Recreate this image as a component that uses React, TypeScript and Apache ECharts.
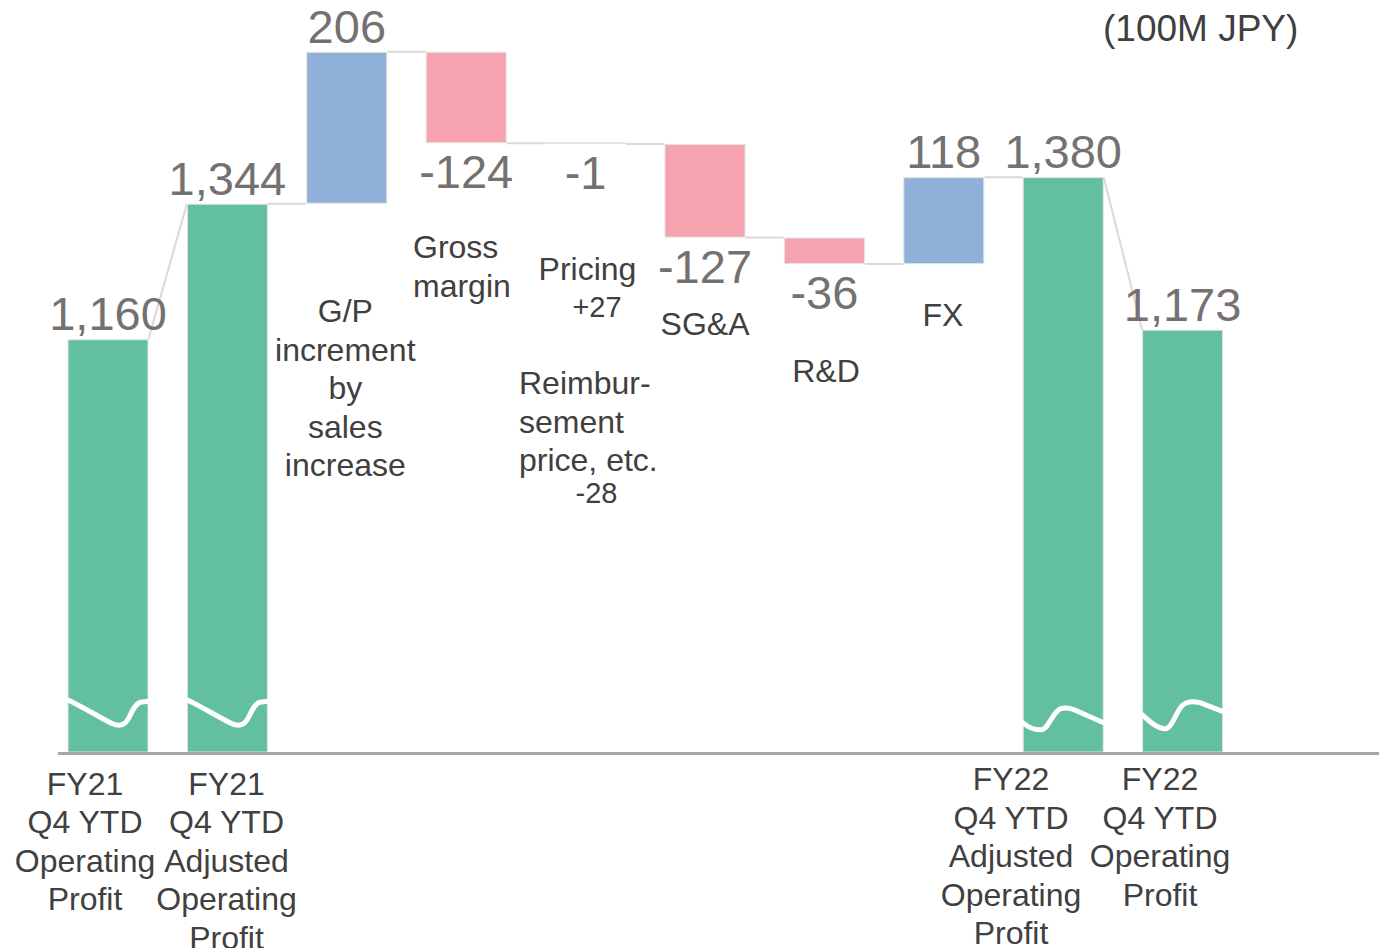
import React, { useEffect, useRef } from 'react';
import * as echarts from 'echarts';

// ---------- data ----------
const categories = [
  'FY21 Q4 YTD Operating Profit',
  'FY21 Q4 YTD Adjusted Operating Profit',
  'G/P increment by sales increase',
  'Gross margin',
  'Pricing / Reimbursement price',
  'SG&A',
  'R&D',
  'FX',
  'FY22 Q4 YTD Adjusted Operating Profit',
  'FY22 Q4 YTD Operating Profit',
];
const values = [1160, 1344, 206, -124, -1, -127, -36, 118, 1380, 1173];
const isTotal = [true, true, false, false, false, false, false, false, true, true];

const unitLabel = '(100M JPY)';

const axisLabelCats = [0, 1, 8, 9];
const axisLabelTexts = [
  'FY21\nQ4 YTD\nOperating\nProfit',
  'FY21\nQ4 YTD\nAdjusted\nOperating\nProfit',
  'FY22\nQ4 YTD\nAdjusted\nOperating\nProfit',
  'FY22\nQ4 YTD\nOperating\nProfit',
];

const descCats = [2, 3, 4, 4, 4, 4, 5, 6, 7];
const descTexts = [
  'G/P\nincrement\nby\nsales\nincrease',
  'Gross\nmargin',
  'Pricing',
  '+27',
  'Reimbur-\nsement\nprice, etc.',
  '-28',
  'SG&A',
  'R&D',
  'FX',
];

// axis break marks (category, value at top of the mark, shape variant)
const breakCats = [0, 1, 8, 9];
const breakTops = [673, 673, 671, 671];
const breakVariants = [0, 0, 1, 2];

const AXIS_MIN = 600;
const AXIS_MAX = 1600;

// ---------- layout / style ----------
const FONT = '"Liberation Sans", Arial, sans-serif';
const GREEN = '#62BFA0';
const BLUE = '#8EB0D9';
const PINK = '#F6A2AF';
const VALUE_GRAY = '#767171';
const TEXT_DARK = '#404040';
const BAR_W = 81;
const TXT = 32;
const SMALL = 29;

const axisLabelLayout = [
  { dx: -23, dy: 12.6 },
  { dx: -0.9, dy: 12.6 },
  { dx: -52.2, dy: 7.9 },
  { dx: -22.6, dy: 7.9 },
];
const descLayout = [
  { dx: -1.5, dy: 88.2, align: 'center', size: TXT, lh: 38.5 },
  { dx: -53.2, dy: 84.7, align: 'left', size: TXT, lh: 38.5 },
  { dx: 1.9, dy: 106, align: 'center', size: TXT, lh: 38.5 },
  { dx: 11.4, dy: 146.2, align: 'center', size: SMALL, lh: 34 },
  { dx: -66.6, dy: 220, align: 'left', size: TXT, lh: 38.5 },
  { dx: 10.9, dy: 332.2, align: 'center', size: SMALL, lh: 34 },
  { dx: 0, dy: 67.3, align: 'center', size: TXT, lh: 38.5 },
  { dx: 1.6, dy: 87.8, align: 'center', size: TXT, lh: 38.5 },
  { dx: -0.8, dy: 31.8, align: 'center', size: TXT, lh: 38.5 },
];

const breakPaths = [
  'M0,1.5 C14,8 30,18 44,25 C50,28 56,28 60,22 C64,15 67,6 73,4 L81,3',
  'M0,23 C6,28 12,31 19,30 C26,29 30,12 38,9 C44,7 50,9 56,12 L81,23',
  'M0,15 C8,22 16,30 24,29 C30,28 34,12 40,6 C44,2 50,1 58,3 L81,12',
];

export default function App() {
  const ref = useRef<HTMLDivElement>(null);

  useEffect(() => {
    if (!ref.current) return;
    const chart = echarts.init(ref.current, null, { renderer: 'svg' });

    // waterfall geometry from values
    const starts: number[] = [];
    const ends: number[] = [];
    const lows: number[] = [];
    const highs: number[] = [];
    let level = 0;
    values.forEach((v, i) => {
      if (isTotal[i]) {
        starts.push(v);
        ends.push(v);
        lows.push(0);
        highs.push(v);
        level = v;
      } else {
        const s = level;
        const e = level + v;
        starts.push(s);
        ends.push(e);
        lows.push(Math.min(s, e));
        highs.push(Math.max(s, e));
        level = e;
      }
    });

    const colorOf = (i: number) => (isTotal[i] ? GREEN : values[i] >= 0 ? BLUE : PINK);

    const assistData = lows.map((l, i) => (isTotal[i] ? 0 : l));
    const barData = values.map((v, i) => ({
      value: highs[i] - lows[i],
      itemStyle: { color: colorOf(i) },
      label: v < 0 && !isTotal[i]
        ? { position: 'bottom', distance: 5 }
        : { position: 'top', distance: 2 },
    }));

    const connectorData = values.slice(0, -1).map((_, i) => [i, ends[i], starts[i + 1]]);

    type Ann = { text: string; dx: number; dy: number; align: string; size: number; lh: number };
    const annotations: Ann[] = [];
    const annData: number[][] = [];
    axisLabelCats.forEach((c, k) => {
      annotations.push({
        text: axisLabelTexts[k],
        dx: axisLabelLayout[k].dx,
        dy: axisLabelLayout[k].dy,
        align: 'center',
        size: TXT,
        lh: 38.5,
      });
      annData.push([c, AXIS_MIN, annotations.length - 1]);
    });
    descCats.forEach((c, k) => {
      annotations.push({ text: descTexts[k], ...descLayout[k] } as Ann);
      annData.push([c, lows[c], annotations.length - 1]);
    });

    const breakData = breakCats.map((c, k) => [c, breakTops[k], breakVariants[k]]);

    chart.setOption({
      animation: false,
      grid: { left: 48.3, right: 136.7, top: 15, bottom: 196, containLabel: false },
      xAxis: {
        type: 'category',
        data: categories,
        axisLine: { show: false },
        axisTick: { show: false },
        axisLabel: { show: false },
        splitLine: { show: false },
      },
      yAxis: {
        type: 'value',
        min: AXIS_MIN,
        max: AXIS_MAX,
        show: false,
        splitLine: { show: false },
      },
      graphic: [
        {
          type: 'line',
          shape: { x1: 58, y1: 753.5, x2: 1379, y2: 753.5 },
          style: { stroke: '#a6a6a6', lineWidth: 3 },
          z: 10,
        },
        {
          type: 'text',
          left: 1103,
          top: 10,
          style: {
            text: unitLabel,
            fontSize: 37,
            lineHeight: 37,
            fontFamily: FONT,
            fill: TEXT_DARK,
          },
        },
      ],
      series: [
        {
          type: 'custom',
          name: 'connectors',
          silent: true,
          z: 1,
          data: connectorData,
          renderItem: (params: any, api: any) => {
            const i = api.value(0);
            const p1 = api.coord([i, api.value(1)]);
            const p2 = api.coord([i + 1, api.value(2)]);
            const half = BAR_W / 2;
            return {
              type: 'line',
              shape: { x1: p1[0] + half, y1: p1[1], x2: p2[0] - half, y2: p2[1] },
              style: { stroke: '#d9d9d9', lineWidth: 2 },
            };
          },
        },
        {
          type: 'bar',
          name: 'assist',
          stack: 'wf',
          barWidth: BAR_W,
          silent: true,
          itemStyle: { color: 'transparent' },
          data: assistData,
          z: 2,
        },
        {
          type: 'bar',
          name: 'value',
          stack: 'wf',
          barWidth: BAR_W,
          barMinHeight: 2,
          z: 3,
          itemStyle: { borderColor: '#e3e3e3', borderWidth: 1 },
          label: {
            show: true,
            fontSize: 47,
            lineHeight: 47,
            fontFamily: FONT,
            color: VALUE_GRAY,
            formatter: (p: any) => values[p.dataIndex].toLocaleString('en-US'),
          },
          data: barData,
        },
        {
          type: 'custom',
          name: 'breaks',
          silent: true,
          z: 5,
          data: breakData,
          renderItem: (params: any, api: any) => {
            const p = api.coord([api.value(0), api.value(1)]);
            const v = api.value(2);
            return {
              type: 'path',
              x: p[0] - BAR_W / 2,
              y: p[1],
              shape: { pathData: breakPaths[v] },
              style: { stroke: '#ffffff', lineWidth: 5, fill: 'none', lineCap: 'round' },
            };
          },
        },
        {
          type: 'custom',
          name: 'annotations',
          silent: true,
          z: 6,
          data: annData,
          renderItem: (params: any, api: any) => {
            const a = annotations[api.value(2)];
            const p = api.coord([api.value(0), api.value(1)]);
            return {
              type: 'text',
              x: p[0] + a.dx,
              y: p[1] + a.dy,
              style: {
                text: a.text,
                fill: TEXT_DARK,
                fontSize: a.size,
                lineHeight: a.lh,
                fontFamily: FONT,
                align: a.align,
                verticalAlign: 'top',
              },
            };
          },
        },
      ],
    });

    return () => chart.dispose();
  }, []);

  return (
    <div
      ref={ref}
      style={{ position: 'fixed', left: 0, top: 0, width: 1379, height: 948, background: '#ffffff' }}
    />
  );
}
